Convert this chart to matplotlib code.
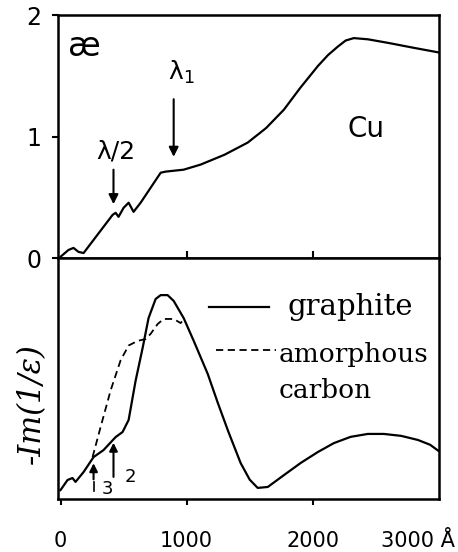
import matplotlib
matplotlib.use("Agg")
from matplotlib import pyplot as plt

# top panel: Cu, kappa vs wavelength (Angstrom)
cu_wl = [0, 63, 103, 143, 183, 413, 437, 460, 500, 540, 579, 635, 794, 833, 976,
         1111, 1300, 1484, 1630, 1770, 1900, 2040, 2120, 2198, 2260, 2325, 2437,
         2600, 2800, 3008]
cu_kappa = [0.01, 0.066, 0.083, 0.05, 0.041, 0.355, 0.372, 0.339, 0.413, 0.455,
            0.38, 0.455, 0.702, 0.711, 0.727, 0.769, 0.85, 0.95, 1.07, 1.22, 1.40,
            1.58, 1.67, 1.74, 1.79, 1.81, 1.80, 1.77, 1.73, 1.69]

# bottom panel: energy loss function
gr_wl = [0, 56, 95, 119, 183, 262, 341, 437, 492, 540, 595, 651, 698, 754, 794,
         849, 897, 976, 1056, 1167, 1246, 1330, 1428, 1500, 1563, 1643, 1760,
         1905, 2040, 2167, 2300, 2436, 2563, 2700, 2833, 2930, 3008]
gr_loss = [0.037, 0.079, 0.087, 0.071, 0.112, 0.174, 0.203, 0.257, 0.278, 0.328,
           0.49, 0.627, 0.751, 0.83, 0.846, 0.846, 0.822, 0.751, 0.656, 0.519,
           0.40, 0.28, 0.149, 0.08, 0.046, 0.05, 0.095, 0.15, 0.195, 0.232, 0.258,
           0.27, 0.27, 0.262, 0.245, 0.225, 0.195]
am_wl = [254, 317, 397, 476, 540, 611, 675, 714, 770, 817, 897, 952, 976]
am_loss = [0.174, 0.297, 0.45, 0.575, 0.637, 0.656, 0.664, 0.685, 0.726, 0.747,
           0.747, 0.73, 0.745]

xticks = [0, 1000, 2000]
xlabels = ["0", "1000", "2000"]

hand = "DejaVu Sans"
serif = "DejaVu Serif"

fig = plt.figure(figsize=(4.58, 5.52), dpi=100)
ax1 = fig.add_axes([0.1266, 0.5326, 0.8319, 0.4402])
ax2 = fig.add_axes([0.1266, 0.096, 0.8319, 0.4366])

for ax in (ax1, ax2):
    ax.set_xlim(-20, 3000)
    for s in ax.spines.values():
        s.set_linewidth(1.8)

ax1.plot(cu_wl, cu_kappa, color="black", lw=1.6)
ax1.set_ylim(0, 2)
ax1.set_yticks([0, 1, 2])
ax1.set_yticklabels(["0", "1", "2"], fontsize=17, family=hand)
ax1.tick_params(axis="y", direction="out", length=4, width=1.5, pad=8)
ax1.set_xticks(xticks[1:])
ax1.set_xticklabels([])
ax1.tick_params(axis="x", direction="in", length=5, width=1.5)

ax1.text(190, 1.74, "æ", fontsize=24, family=hand, ha="center", va="center")
ax1.text(2420, 1.06, "Cu", fontsize=20, family=hand, ha="center", va="center")
ax1.annotate("", xy=(420, 0.42), xytext=(420, 0.75),
             arrowprops=dict(arrowstyle="-|>", color="black", lw=1.5, mutation_scale=14))
ax1.text(440, 0.88, "λ/2", fontsize=18, family=hand, ha="center", va="center")
ax1.annotate("", xy=(897, 0.81), xytext=(897, 1.33),
             arrowprops=dict(arrowstyle="-|>", color="black", lw=1.5, mutation_scale=14))
ax1.text(960, 1.53, "λ$_1$", fontsize=18, family=hand, ha="center", va="center")

ax2.plot(gr_wl, gr_loss, color="black", lw=1.6)
ax2.plot(am_wl, am_loss, color="black", lw=1.3, ls=(0, (4, 2.5)))
ax2.set_ylim(0, 1)
ax2.set_yticks([])
ax2.set_xticks(xticks)
ax2.set_xticklabels(xlabels, fontsize=15, family=hand)
ax2.tick_params(axis="x", direction="out", length=4, width=1.5, pad=19)
ax2.text(3125, -0.175, "3000 Å", fontsize=15, family=hand, ha="right", va="center",
         clip_on=False)
fig.text(31 / 458, 1 - 404 / 552, "-Im(1/ε)", fontsize=22, family=serif,
         style="italic", rotation=90, ha="center", va="center")

ax2.annotate("", xy=(262, 0.16), xytext=(262, 0.07),
             arrowprops=dict(arrowstyle="-|>", color="black", lw=1.5, mutation_scale=12))
ax2.plot([262, 262], [0.07, 0.035], color="black", lw=1.2)
ax2.text(370, 0.04, "3", fontsize=13, family=hand, ha="center", va="center")
ax2.annotate("", xy=(420, 0.245), xytext=(420, 0.08),
             arrowprops=dict(arrowstyle="-|>", color="black", lw=1.5, mutation_scale=12))
ax2.text(555, 0.09, "2", fontsize=13, family=hand, ha="center", va="center")

# hand-drawn style legend
ax2.plot([1175, 1651], [0.797, 0.797], color="black", lw=1.6)
ax2.text(1802, 0.763, "graphite", fontsize=21, family=serif, va="baseline")
ax2.plot([1230, 1706], [0.618, 0.618], color="black", lw=1.3, ls=(0, (4, 2.5)))
ax2.text(1730, 0.568, "amorphous", fontsize=19, family=serif, va="baseline")
ax2.text(1730, 0.419, "carbon", fontsize=19, family=serif, va="baseline")

fig.savefig("out.png", dpi=100)
